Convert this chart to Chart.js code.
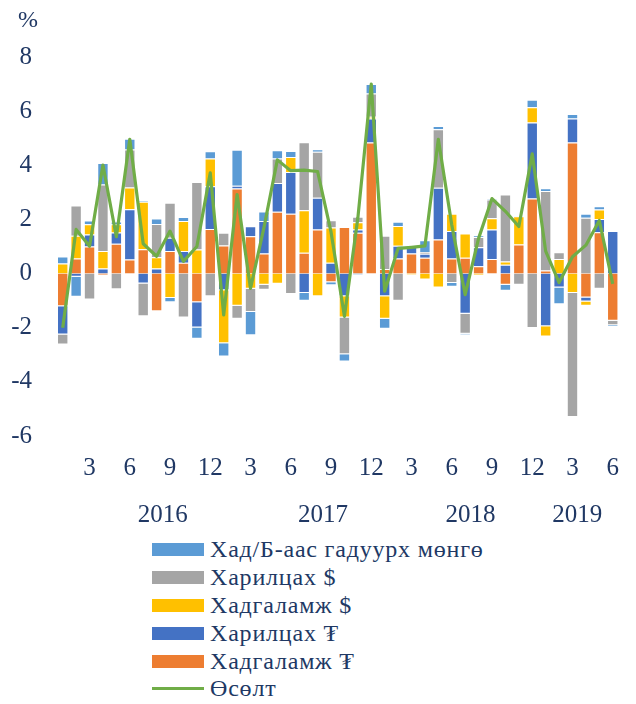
<!DOCTYPE html>
<html>
<head>
<meta charset="utf-8">
<script src="https://cdn.jsdelivr.net/npm/chart.js@4"></script>
<style>
  body { margin: 0; background: #fff; }
  #wrap { position: relative; width: 636px; height: 704px; font-family: 'Liberation Serif', 'DejaVu Serif', serif; color: #203864; }
  #chartBox { position: absolute; left: 0; top: 0; width: 636px; height: 532px; }
  #legend { position: absolute; left: 152px; top: 536px; }
  .item { display: flex; align-items: center; height: 27.8px; font-size: 24px; letter-spacing: 0.8px; white-space: nowrap; }
  .swatch { width: 52px; height: 13px; margin-right: 6px; }
  .lineSwatch { width: 52px; height: 3px; margin-right: 6px; }
</style>
</head>
<body>
<div id="wrap">
  <div id="chartBox"><canvas id="chart"></canvas></div>
  <div id="legend"></div>
</div>
<script>
// months Jan 2016 - Jun 2019
const months = [1,2,3,4,5,6,7,8,9,10,11,12, 1,2,3,4,5,6,7,8,9,10,11,12, 1,2,3,4,5,6,7,8,9,10,11,12, 1,2,3,4,5,6];
const years = ['2016', '2017', '2018', '2019'];

const depositMNT = [-1.21, 0.56, 1.00, -0.06, 1.10, 0.52, 0.90, -1.39, 0.83, 0.40, -1.06, 1.65,
  1.04, 3.14, 1.38, 0.74, 2.28, 2.21, 0.77, 1.63, -0.32, 1.72, 1.51, 4.84,
  0.17, 0.56, 0.74, 0.58, 1.26, 0.56, 0.58, 0.27, 0.54, -0.41, 1.07, 2.77,
  0.11, 0.00, 4.84, -0.88, 1.53, -1.74];
const currentMNT = [-1.04, -0.12, 0.44, 0.19, 0.42, 1.86, -0.37, 0.19, 0.49, 0.43, -0.93, 1.58,
  -0.62, 0.10, 0.37, 1.20, 1.07, 1.54, -0.72, 1.17, 0.40, -0.84, 0.12, 0.89,
  -0.84, 0.47, 0.27, 0.15, 1.91, 1.01, -1.48, 0.70, 1.09, 0.33, 0.00, 2.81,
  -1.95, -0.51, 0.89, -0.15, 0.49, 1.57];
const depositUSD = [0.37, 0.84, 0.38, 0.64, 0.30, 0.80, 1.75, 0.41, -0.90, 1.11, 0.89, 1.02,
  -1.95, -1.19, -0.56, -0.41, -0.38, 0.56, 1.57, -0.84, 1.30, -0.78, 0.27, 0.06,
  -0.83, 0.73, -0.05, -0.22, -0.51, 0.64, 0.90, -0.07, 0.41, 0.12, 1.05, 0.56,
  -0.37, 0.54, -0.72, -0.16, 0.35, 0.00];
const currentUSD = [-0.37, 1.11, -0.96, 2.46, -0.58, 1.40, -1.21, 1.23, 1.30, -1.62, 2.49, -0.84,
  0.47, -0.48, -0.86, -0.19, 0.90, -0.75, 2.51, 1.70, 0.27, -1.36, 0.20, 0.86,
  1.23, -1.00, 0.00, 0.07, 2.16, -0.35, -0.74, 0.38, 0.70, 2.47, -0.41, -2.01,
  2.94, 0.25, -4.58, 2.06, -0.56, -0.17];
const cashOutside = [0.26, -0.74, 0.14, 0.79, 0.10, 0.40, 0.04, 0.20, -0.16, 0.15, -0.42, 0.27,
  -0.49, 1.33, -0.86, 0.35, 0.31, 0.22, -0.28, 0.09, -0.11, -0.27, -0.05, 0.35,
  -0.37, 0.15, 0.00, 0.43, 0.12, -0.14, -0.05, 0.05, 0.03, -0.22, 0.02, 0.28,
  0.10, -0.62, 0.16, 0.15, 0.12, -0.05];
const growth = [-2.00, 1.63, 1.01, 4.01, 1.36, 4.96, 1.10, 0.64, 1.57, 0.45, 1.00, 3.72,
  -1.53, 2.92, -0.55, 1.70, 4.20, 3.80, 3.82, 3.77, 1.54, -1.58, 2.05, 7.00,
  -0.65, 0.93, 0.97, 1.02, 4.96, 1.80, -0.78, 1.30, 2.77, 2.30, 1.74, 4.42,
  0.83, -0.33, 0.62, 1.05, 1.96, -0.38];

const textColor = '#203864';
const fontFamily = "'Liberation Serif', 'DejaVu Serif', serif";

function bar(label, data, color) {
  return {
    type: 'bar',
    label: label,
    data: data,
    backgroundColor: color,
    borderColor: 'rgba(255,255,255,0.45)',
    borderWidth: 1,
    stack: 'parts',
    order: 1,
    categoryPercentage: 1,
    barPercentage: 0.85
  };
}

const datasets = [
  bar('Хадгаламж ₮', depositMNT, '#ED7D31'),
  bar('Харилцах ₮', currentMNT, '#4472C4'),
  bar('Хадгаламж $', depositUSD, '#FFC000'),
  bar('Харилцах $', currentUSD, '#A5A5A5'),
  bar('Хад/Б-аас гадуурх мөнгө', cashOutside, '#5B9BD5'),
  {
    type: 'line',
    label: 'Өсөлт',
    data: growth,
    borderColor: '#70AD47',
    borderWidth: 3.2,
    pointRadius: 0,
    tension: 0,
    borderJoinStyle: 'round',
    stack: 'growth',
    order: 0
  }
];

// year labels sit between months, like the text boxes in the original
const yearLabels = {
  id: 'yearLabels',
  afterDraw(chart) {
    const ctx = chart.ctx;
    const x = chart.scales.x;
    const at = [7.46, 19.4, 30.4, 38.35];
    ctx.save();
    ctx.fillStyle = textColor;
    ctx.font = '25px ' + fontFamily;
    ctx.textAlign = 'center';
    ctx.textBaseline = 'middle';
    years.forEach((y, i) => ctx.fillText(y, x.getPixelForValue(at[i]), 515));
    ctx.font = '24px ' + fontFamily;
    ctx.fillText('%', 28, 21);
    ctx.restore();
  }
};

const chart = new Chart(document.getElementById('chart').getContext('2d'), {
  data: { labels: months, datasets: datasets },
  options: {
    responsive: true,
    maintainAspectRatio: false,
    animation: false,
    layout: { padding: { top: 57, right: 1, left: 0, bottom: 0 } },
    scales: {
      x: {
        stacked: true,
        grid: { display: false, drawTicks: false },
        border: { display: false },
        afterFit: (scale) => { scale.height = 96; },
        ticks: {
          autoSkip: false,
          maxRotation: 0,
          padding: 17,
          color: textColor,
          font: { family: fontFamily, size: 25 },
          callback: (value, index) => (months[index] % 3 === 0 ? String(months[index]) : '')
        }
      },
      y: {
        stacked: true,
        min: -6,
        max: 8,
        grid: { display: false, drawTicks: false },
        border: { display: false },
        afterFit: (scale) => { scale.width = 56; },
        ticks: {
          stepSize: 2,
          padding: 24,
          color: textColor,
          font: { family: fontFamily, size: 25 }
        }
      }
    },
    plugins: {
      legend: { display: false },
      tooltip: { enabled: false }
    }
  },
  plugins: [yearLabels]
});

// legend in the original order: last bar series first, line at the end
const legendOrder = [4, 3, 2, 1, 0, 5];
const legend = document.getElementById('legend');
legendOrder.forEach((i) => {
  const ds = chart.data.datasets[i];
  const row = document.createElement('div');
  row.className = 'item';
  const sw = document.createElement('span');
  if (ds.type === 'line') {
    sw.className = 'lineSwatch';
    sw.style.background = ds.borderColor;
  } else {
    sw.className = 'swatch';
    sw.style.background = ds.backgroundColor;
  }
  const txt = document.createElement('span');
  txt.textContent = ds.label;
  row.appendChild(sw);
  row.appendChild(txt);
  legend.appendChild(row);
});
</script>
</body>
</html>
